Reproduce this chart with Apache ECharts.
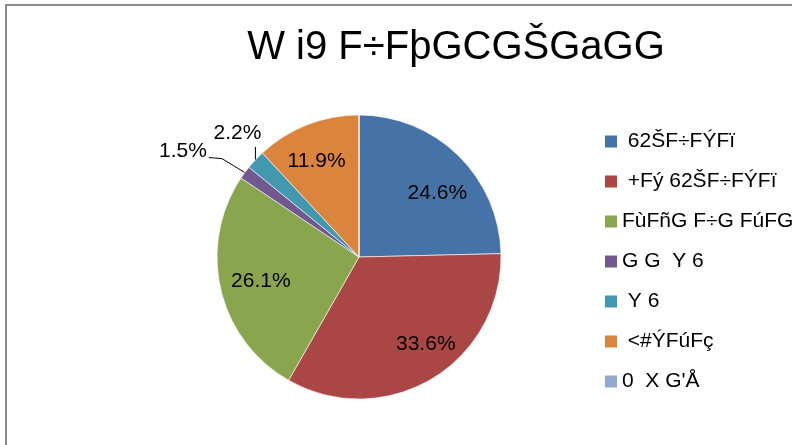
<!DOCTYPE html>
<html>
<head>
<meta charset="utf-8">
<script src="https://cdn.jsdelivr.net/npm/echarts@6/dist/echarts.min.js"></script>
<style>
  html, body { margin: 0; padding: 0; background: #fff; }
  #main { width: 792px; height: 445px; }
</style>
</head>
<body>
<div id="main"></div>
<script>
// chart data
var titleText = 'W i9 F÷FþGCGŠGaGG';
var names = [' 62ŠF÷FÝFï', ' +Fý 62ŠF÷FÝFï', 'FùFñG F÷G FúFG', 'G G  Y 6', ' Y 6', ' <#ÝFúFç', "0  X G'Å"];
var values = [24.6, 33.6, 26.1, 1.5, 2.2, 11.9, 0];
var colors = ['#4572A7', '#AA4643', '#89A54E', '#71588F', '#4198AF', '#DB843D', '#93A9CF'];

var font = '"Liberation Sans", Arial, sans-serif';
var outsideIdx = [3, 4];   // small slices labelled outside with a leader line
// nudge of the inside labels, Excel doesn't put them exactly on the mid angle
var labelNudge = { 0: [5, 11], 1: [13, -3], 2: [4, 0], 5: [-4, 2] };

var pieData = names.map(function (n, i) {
  var d = { name: n, value: values[i] };
  if (outsideIdx.indexOf(i) >= 0) {
    d.label = { show: true, position: 'outside' };
    d.labelLine = { show: true };
  }
  return d;
});
// overlay only carries the inside labels, pushed out a bit from the centre
var labelData = names.map(function (n, i) {
  var d = { name: n, value: values[i] };
  if (outsideIdx.indexOf(i) >= 0 || values[i] === 0) d.label = { show: false };
  else if (labelNudge[i]) d.label = { offset: labelNudge[i] };
  return d;
});

var myChart = echarts.init(document.getElementById('main'));
var option = {
  backgroundColor: '#fff',
  animation: false,
  color: colors,
  textStyle: { fontFamily: font },
  title: {
    text: titleText,
    left: 451,
    top: 23,
    textAlign: 'center',
    textStyle: { fontSize: 40, fontWeight: 'normal', color: '#000', fontFamily: font }
  },
  legend: {
    orient: 'vertical',
    left: 605,
    top: 131,
    padding: 0,
    itemWidth: 12,
    itemHeight: 12,
    itemGap: 19,
    icon: 'rect',
    selectedMode: false,
    itemStyle: { borderWidth: 0 },
    textStyle: { fontSize: 21, color: '#000', fontFamily: font },
    data: names
  },
  graphic: [{
    type: 'rect',
    shape: { x: 6, y: 5, width: 1000, height: 1000 },
    style: { fill: 'none', stroke: '#8a8a8a', lineWidth: 2 },
    silent: true
  }],
  series: [{
    type: 'pie',
    center: [359, 257],
    radius: [0, 142],
    startAngle: 90,
    clockwise: true,
    silent: true,
    avoidLabelOverlap: false,
    itemStyle: { borderColor: '#fff', borderWidth: 0.6 },
    label: {
      show: false,
      fontSize: 21,
      color: '#000',
      fontFamily: font,
      formatter: function (p) { return p.value.toFixed(1) + '%'; }
    },
    labelLine: { show: false, lineStyle: { color: '#000', width: 1 }, length: 14, length2: 12, smooth: false },
    labelLayout: function (p) {
      var pt = p.labelLinePoints && p.labelLinePoints[0];
      if (!pt) return;
      if (p.dataIndex === 4) {
        return {
          x: pt[0] - 18, y: pt[1] - 27, align: 'center', verticalAlign: 'middle',
          labelLinePoints: [pt, [pt[0], pt[1] - 13], [pt[0], pt[1] - 13]]
        };
      }
      if (p.dataIndex === 3) {
        var mid = [pt[0] - 23, pt[1] - 14];
        var end = [mid[0] - 13, mid[1] - 1];
        return {
          x: end[0] - 2, y: end[1] - 6, align: 'right', verticalAlign: 'middle',
          labelLinePoints: [pt, mid, end]
        };
      }
    },
    data: pieData
  }, {
    type: 'pie',
    center: [359, 257],
    radius: [62, 142],
    startAngle: 90,
    clockwise: true,
    silent: true,
    itemStyle: { color: 'transparent', borderWidth: 0 },
    emphasis: { disabled: true },
    label: {
      show: true,
      position: 'inside',
      fontSize: 21,
      color: '#000',
      fontFamily: font,
      formatter: function (p) { return p.value.toFixed(1) + '%'; }
    },
    labelLine: { show: false },
    data: labelData
  }]
};
myChart.setOption(option);
</script>
</body>
</html>
